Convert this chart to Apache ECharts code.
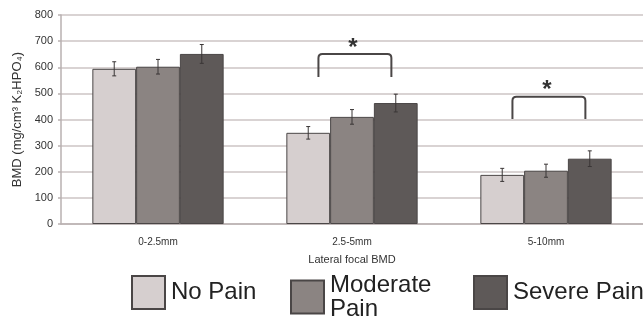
<!DOCTYPE html>
<html>
<head>
<meta charset="utf-8">
<script src="https://cdn.jsdelivr.net/npm/echarts@6/dist/echarts.min.js"></script>
<style>
  html, body { margin: 0; padding: 0; background: #fff; }
  #chart { width: 643px; height: 321px; }
</style>
</head>
<body>
<div id="chart"></div>
<script>
var categories = ["0-2.5mm", "2.5-5mm", "5-10mm"];
var seriesNames = ["No Pain", "Moderate Pain", "Severe Pain"];
var noPain = [594, 349, 188];
var moderatePain = [602, 410, 204];
var severePain = [651, 463, 250];
var noPainErr = [27, 24, 25];
var moderatePainErr = [28, 28, 25];
var severePainErr = [36, 34, 30];
// [category index, bracket foot value, bracket top value]
var brackets = [[1, 563, 651], [2, 402, 487]];
var yTicks = [0, 100, 200, 300, 400, 500, 600, 700, 800];

var colors = ["#d6cfcf", "#8b8482", "#5e5958"];
var values = [noPain, moderatePain, severePain];
var errors = [noPainErr, moderatePainErr, severePainErr];
var BAR_FRAC = 0.2256;

var chartDom = document.getElementById("chart");
var myChart = echarts.init(chartDom);
var option;

var series = [];
values.forEach(function (vals, i) {
  series.push({
    name: seriesNames[i],
    type: "bar",
    data: vals,
    barWidth: (BAR_FRAC * 100) + "%",
    barGap: "0%",
    itemStyle: { color: colors[i], borderColor: "#4a4646", borderWidth: 1 },
    emphasis: { disabled: true }
  });
});

values.forEach(function (vals, i) {
  var errData = vals.map(function (v, j) { return [j, v - errors[i][j], v + errors[i][j]]; });
  series.push({
    type: "custom",
    silent: true,
    z: 5,
    data: errData,
    renderItem: function (params, api) {
      var band = api.size([1, 0])[0];
      var off = (i - 1) * band * BAR_FRAC;
      var lo = api.coord([api.value(0), api.value(1)]);
      var hi = api.coord([api.value(0), api.value(2)]);
      var x = lo[0] + off;
      var cap = 2;
      var st = { stroke: "#3a3636", lineWidth: 1 };
      return {
        type: "group",
        children: [
          { type: "line", shape: { x1: x, y1: lo[1], x2: x, y2: hi[1] }, style: st },
          { type: "line", shape: { x1: x - cap, y1: lo[1], x2: x + cap, y2: lo[1] }, style: st },
          { type: "line", shape: { x1: x - cap, y1: hi[1], x2: x + cap, y2: hi[1] }, style: st }
        ]
      };
    }
  });
});

series.push({
  type: "custom",
  silent: true,
  z: 6,
  data: brackets,
  renderItem: function (params, api) {
    var band = api.size([1, 0])[0];
    var foot = api.coord([api.value(0), api.value(1)]);
    var top = api.coord([api.value(0), api.value(2)]);
    var cx = foot[0] + band * 0.015;
    var half = band * 0.188;
    var x1 = cx - half, x2 = cx + half, r = 4;
    var path = "M" + x1 + "," + foot[1] +
      " L" + x1 + "," + (top[1] + r) +
      " Q" + x1 + "," + top[1] + " " + (x1 + r) + "," + top[1] +
      " L" + (x2 - r) + "," + top[1] +
      " Q" + x2 + "," + top[1] + " " + x2 + "," + (top[1] + r) +
      " L" + x2 + "," + foot[1];
    return {
      type: "group",
      children: [
        { type: "path", shape: { pathData: path }, style: { fill: null, stroke: "#4a4646", lineWidth: 2 } },
        { type: "text", x: cx - 2, y: top[1] + 6, style: { text: "*", fill: "#333", font: "bold 24px 'Liberation Sans'", textAlign: "center", textVerticalAlign: "bottom" } }
      ]
    };
  }
});

function legendAt(name, left, top, label) {
  return {
    data: [name],
    left: left,
    top: top,
    orient: "horizontal",
    icon: "rect",
    itemWidth: 33,
    itemHeight: 33,
    itemGap: 0,
    padding: 0,
    selectedMode: false,
    formatter: function () { return label; },
    textStyle: { fontFamily: "Liberation Sans", fontSize: 24, color: "#222", lineHeight: 24, padding: [0, 0, 0, 1] }
  };
}

option = {
  backgroundColor: "#fff",
  animation: false,
  textStyle: { fontFamily: "Liberation Sans" },
  grid: { left: 61, right: -3, top: 15, bottom: 97 },
  legend: [
    legendAt("No Pain", 131, 275, "No Pain"),
    legendAt("Moderate Pain", 290, 273, "Moderate\nPain"),
    legendAt("Severe Pain", 473, 275, "Severe Pain")
  ],
  xAxis: {
    type: "category",
    data: categories,
    name: "Lateral focal BMD",
    nameLocation: "middle",
    nameGap: 30,
    nameTextStyle: { fontSize: 11, color: "#333" },
    axisLine: { show: true, lineStyle: { color: "#b9b1b1", width: 1.5 } },
    axisTick: { show: false },
    axisLabel: { fontSize: 10, color: "#333", margin: 13 }
  },
  yAxis: {
    type: "value",
    min: yTicks[0],
    max: yTicks[yTicks.length - 1],
    interval: 100,
    name: "BMD (mg/cm³ K₂HPO₄)",
    nameLocation: "middle",
    nameGap: 37,
    nameTextStyle: { fontSize: 13, color: "#333" },
    axisLine: { show: true, lineStyle: { color: "#b9b1b1", width: 1.5 } },
    axisTick: { show: true, length: 3, lineStyle: { color: "#b9b1b1", width: 1.5 } },
    axisLabel: { fontSize: 11, color: "#333", margin: 8 },
    splitLine: { show: true, lineStyle: { color: "#cdc5c5", width: 1.5 } }
  },
  series: series
};

option && myChart.setOption(option);
</script>
</body>
</html>
